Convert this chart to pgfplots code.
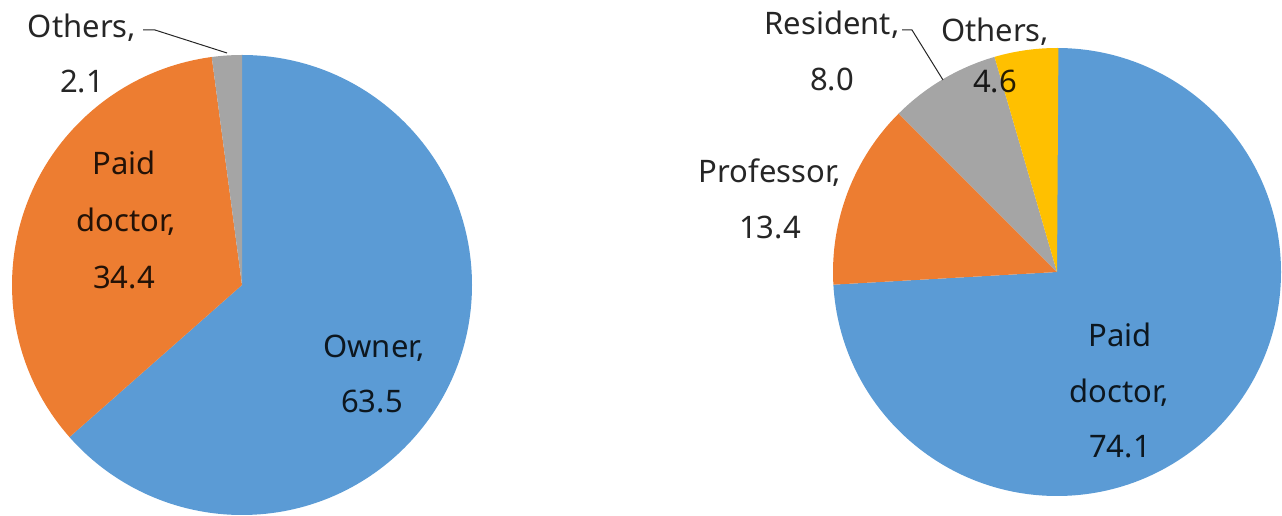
\documentclass[border=0pt]{standalone}
\usepackage{pgfplots}
\pgfplotsset{compat=1.18}
\usepackage{fontspec}
\setmainfont{Noto Sans}
\definecolor{cblue}{HTML}{5B9BD5}
\definecolor{corange}{HTML}{ED7D31}
\definecolor{cgray}{HTML}{A5A5A5}
\definecolor{cyellow}{HTML}{FFC000}
\definecolor{ctext}{HTML}{262626}
\newcommand\lf{\fontsize{31}{36}\selectfont}
\tikzset{lbl/.style={font=\lf, text=black, text opacity=0.85, anchor=base, inner sep=0pt}}
\newcommand\piechart[4]{%
  \xdef\curang{90}%
  \foreach \v/\c in {#4}{%
    \pgfmathsetmacro\nextang{\curang-3.6*\v}%
    \fill[\c] (axis cs:#1,#2) -- ++(\curang:#3pt) arc[start angle=\curang, end angle=\nextang, radius=#3pt] -- cycle;%
    \xdef\curang{\nextang}%
  }}
\begin{document}
\begin{tikzpicture}
\useasboundingbox (0,0) rectangle (1282pt,516pt);
\begin{axis}[at={(0,0)}, anchor=origin, x=1pt, y=1pt, xmin=0, xmax=1282, ymin=0, ymax=516, hide axis, clip=false]
\pgfplotsextra{%
  \piechart{242}{231}{230}{63.5/cblue,34.4/corange,2.1/cgray}
  \piechart{1057}{244}{224}{74.1/cblue,13.4/corange,8.0/cgray,4.6/cyellow}
  % left labels
  \node[lbl] at (axis cs:82,478) {Others,};
  \node[lbl] at (axis cs:82,423) {2.1};
  \draw[ctext, line width=1pt] (axis cs:143,486) -- (axis cs:155,486) -- (axis cs:227,463);
  \node[lbl] at (axis cs:124,341) {Paid};
  \node[lbl] at (axis cs:126,284) {doctor,};
  \node[lbl] at (axis cs:124,227) {34.4};
  \node[lbl] at (axis cs:374,158) {Owner,};
  \node[lbl] at (axis cs:372,103) {63.5};
  % right labels
  \node[lbl] at (axis cs:832,481) {Resident,};
  \node[lbl] at (axis cs:832,425) {8.0};
  \draw[ctext, line width=1pt] (axis cs:902,486) -- (axis cs:912,486) -- (axis cs:943,436);
  \node[lbl] at (axis cs:995,474) {Others,};
  \node[lbl] at (axis cs:995,423) {4.6};
  \node[lbl] at (axis cs:770,333) {Professor,};
  \node[lbl] at (axis cs:770,277) {13.4};
  \node[lbl] at (axis cs:1120,169) {Paid};
  \node[lbl] at (axis cs:1119,113) {doctor,};
  \node[lbl] at (axis cs:1120,58) {74.1};
}
\end{axis}
\end{tikzpicture}
\end{document}
